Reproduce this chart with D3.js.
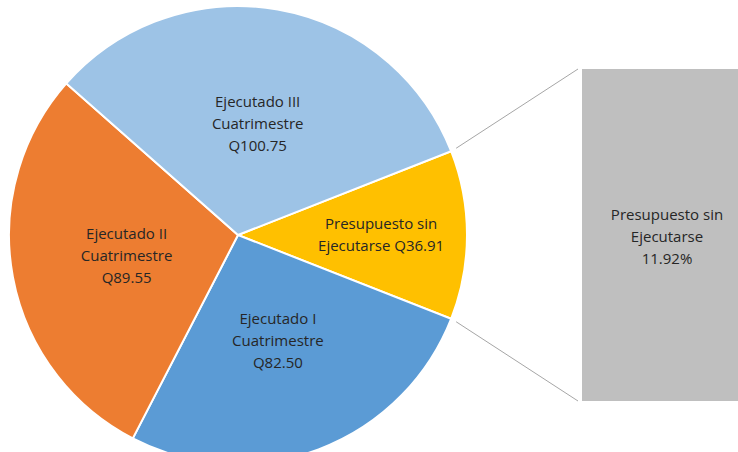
<!DOCTYPE html>
<html>
<head>
<meta charset="utf-8">
<script src="https://cdn.jsdelivr.net/npm/d3@7"></script>
<style>
  body { margin: 0; background: #fff; overflow: hidden; }
  svg { display: block; font-family: "Open Sans", "Noto Sans", sans-serif; }
</style>
</head>
<body>
<svg id="chart" width="738" height="452"></svg>
<script>
// slices, clockwise starting with the one that is split out into the bar
const labels = ["Presupuesto sin Ejecutarse", "Ejecutado I Cuatrimestre", "Ejecutado II Cuatrimestre", "Ejecutado III Cuatrimestre"];
const values = [36.91, 82.50, 89.55, 100.75];
const colors = ["#ffc000", "#5b9bd5", "#ed7d31", "#9dc3e6"];
const labelLines = [
    ["Presupuesto sin", "Ejecutarse Q36.91"],
    ["Ejecutado I", "Cuatrimestre", "Q82.50"],
    ["Ejecutado II", "Cuatrimestre", "Q89.55"],
    ["Ejecutado III", "Cuatrimestre", "Q100.75"]
];
const barLines = ["Presupuesto sin", "Ejecutarse", "11.92%"];

const svg = d3.select("#chart");
const cx = 238, cy = 235, r = 229;
const total = d3.sum(values);
const split = values[0] / total * 2 * Math.PI;

const pie = d3.pie()
    .sort(null)
    .value(d => d)
    .startAngle(Math.PI / 2 - split / 2)
    .endAngle(Math.PI / 2 - split / 2 + 2 * Math.PI);

const arcs = pie(values);
const arc = d3.arc().innerRadius(0).outerRadius(r);

const g = svg.append("g").attr("transform", `translate(${cx},${cy})`);

g.selectAll("path")
    .data(arcs)
    .join("path")
    .attr("d", arc)
    .attr("fill", (d, i) => colors[i])
    .attr("stroke", "#fff")
    .attr("stroke-width", 2);

// label radius, a bit further out for the small slice
const labelArc = (d, i) => d3.arc().innerRadius(0).outerRadius(i === 0 ? 1.25 * r : 0.99 * r).centroid(d);

const fs = 15;
const lh = 22;
g.selectAll("text.lbl")
    .data(arcs)
    .join("text")
    .attr("class", "lbl")
    .attr("text-anchor", "middle")
    .attr("font-size", fs)
    .attr("fill", "#262626")
    .each(function(d, i) {
        const [x, y] = labelArc(d, i);
        const lines = labelLines[i];
        const y0 = y - (lines.length - 1) * lh / 2;
        d3.select(this).selectAll("tspan")
            .data(lines)
            .join("tspan")
            .attr("x", x)
            .attr("y", (t, j) => y0 + j * lh)
            .attr("dy", "0.35em")
            .text(t => t);
    });

// bar of pie: the split slice shown as a single 100% bar (runs past the right edge)
const x = d3.scaleBand().domain(["bar"]).range([582, 752]);
const y = d3.scaleLinear().domain([0, values[0]]).range([401, 69]);

svg.append("rect")
    .attr("x", x("bar"))
    .attr("y", y(values[0]))
    .attr("width", x.bandwidth())
    .attr("height", y(0) - y(values[0]))
    .attr("fill", "#bfbfbf");

// connector lines from the slice edges to the bar corners
const s = arcs[0];
const edge = a => [cx + r * Math.sin(a), cy - r * Math.cos(a)];
const p1 = edge(s.startAngle), p2 = edge(s.endAngle);
const gap = 4;

svg.append("g")
    .attr("stroke", "#a6a6a6")
    .attr("stroke-width", 1)
    .selectAll("line")
    .data([[p1, [x("bar") - gap, y(values[0])]], [p2, [x("bar") - gap, y(0)]]])
    .join("line")
    .attr("x1", d => d[0][0] + 5)
    .attr("y1", d => d[0][1] + (d[0][1] < cy ? -3 : 3))
    .attr("x2", d => d[1][0])
    .attr("y2", d => d[1][1]);

svg.append("text")
    .attr("text-anchor", "middle")
    .attr("font-size", fs)
    .attr("fill", "#262626")
    .selectAll("tspan")
    .data(barLines)
    .join("tspan")
    .attr("x", x("bar") + x.bandwidth() / 2)
    .attr("y", (t, j) => 237 + (j - 1) * lh)
    .attr("dy", "0.35em")
    .text(t => t);
</script>
</body>
</html>
